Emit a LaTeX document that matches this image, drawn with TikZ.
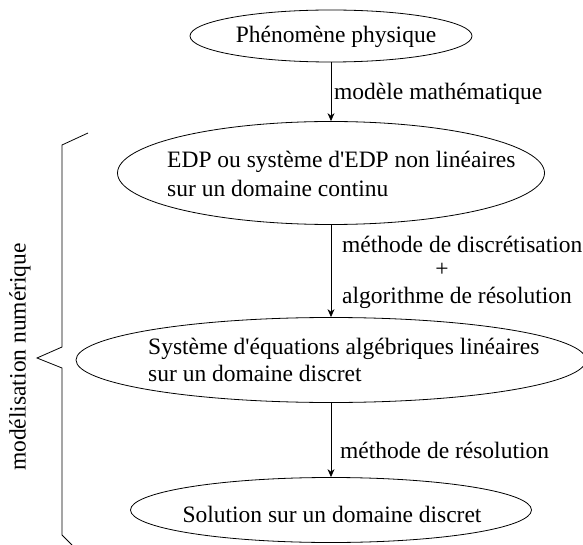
\documentclass[tikz,border=0pt]{standalone}
\usepackage{fontspec}
\setmainfont{Liberation Serif}[Ligatures=TeXOff]
\usetikzlibrary{arrows.meta,shapes.geometric}
\tikzset{
  oval/.style={draw, ellipse, line width=0.8pt, inner sep=0pt},
  txt/.style={inner sep=0pt, font=\fontsize{23.5}{28}\selectfont},
  flow/.style={draw, line width=0.8pt, -{Stealth[length=8pt,width=7pt]}},
  bracepath/.style={draw, line width=0.8pt, line join=miter}
}
\begin{document}
\begin{tikzpicture}[x=1pt,y=-1pt]
\useasboundingbox (0,0) rectangle (583,545);
% ellipses
\node[oval, minimum width=282pt, minimum height=52pt] (e1) at (331,36) {};
\node[oval, minimum width=427pt, minimum height=103pt] (e2) at (331,173) {};
\node[oval, minimum width=510pt, minimum height=85pt] (e3) at (331,360) {};
\node[oval, minimum width=401pt, minimum height=65pt] (e4) at (331,510) {};
% texts in ellipses
\node[txt, anchor=base] (t1) at (336,43) {Phénomène physique};
\node[txt, anchor=base west] (t2a) at (167,168) {EDP ou système d'EDP non linéaires};
\node[txt, anchor=base west] (t2b) at (167,197) {sur un domaine continu};
\node[txt, anchor=base west] (t3a) at (148,354) {Système d'équations algébriques linéaires};
\node[txt, anchor=base west] (t3b) at (148,381) {sur un domaine discret};
\node[txt, anchor=base] (t4) at (332,522) {Solution sur un domaine discret};
% connectors
\draw[flow] (e1.south) -- (e2.north);
\draw[flow] (e2.south) -- (e3.north);
\draw[flow] (e3.south) -- (e4.north);
% connector labels
\node[txt, anchor=base west] (l1) at (334,100) {modèle mathématique};
\node[txt, anchor=base west] (l2a) at (342,252) {méthode de discrétisation};
\node[txt, anchor=base] (l2b) at (442,276) {+};
\node[txt, anchor=base west] (l2c) at (342,303) {algorithme de résolution};
\node[txt, anchor=base west] (l3) at (340,458) {méthode de résolution};
% brace
\coordinate (bt) at (88,133);
\coordinate (bb) at (72,545);
\draw[bracepath] (bt) -- (62,145) -- (62,347) -- (37,358) -- (62,368) -- (62,535) -- (bb);
\node[txt, rotate=90] (bl) at (20,357) {modélisation numérique};
\end{tikzpicture}
\end{document}
